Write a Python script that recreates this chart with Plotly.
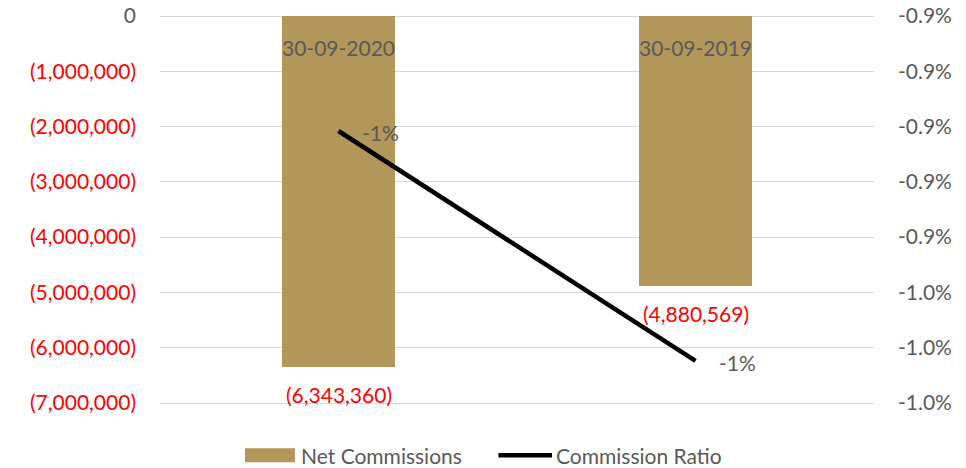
import plotly.graph_objects as go

categories = ["30-09-2020", "30-09-2019"]
net_commissions = [-6343360, -4880569]
commission_ratio = [-0.009016, -0.009848]
ratio_labels = ["-1%", "-1%"]

left_tick_vals = [0, -1000000, -2000000, -3000000, -4000000, -5000000, -6000000, -7000000]
right_tick_vals = [-0.0086, -0.0088, -0.0090, -0.0092, -0.0094, -0.0096, -0.0098, -0.0100]

FONT = "Lato"
GRAY = "#595959"
RED = "#FF0000"
BAR = "#B3965A"

left_tick_text = ["<span style='color:%s'>0</span>" % GRAY if v == 0 else "({:,.0f})".format(abs(v)) for v in left_tick_vals]
right_tick_text = ["{:.1%}".format(v) for v in right_tick_vals]
bar_labels = ["({:,.0f})".format(abs(v)) for v in net_commissions]

# 2px padding at each end so the end gridlines are drawn (grid span = 387px)
PAD_FRAC = 2 / 387
lspan = max(left_tick_vals) - min(left_tick_vals)
rspan = max(right_tick_vals) - min(right_tick_vals)
lpad = PAD_FRAC * lspan
rpad = PAD_FRAC * rspan

fig = go.Figure()
fig.add_trace(go.Bar(
    x=categories, y=net_commissions, name="Net Commissions",
    marker=dict(color=BAR, line=dict(width=0)), width=0.314,
    yaxis="y", showlegend=False,
))
fig.add_trace(go.Scatter(
    x=categories, y=commission_ratio, name="Commission Ratio",
    mode="lines", line=dict(color="black", width=4.5),
    yaxis="y2", showlegend=False,
))
# category labels inside the plot just below the zero line
for c in categories:
    fig.add_annotation(x=c, y=0, yref="y", text=c, showarrow=False,
                       yanchor="middle", yshift=-31,
                       font=dict(color=GRAY, size=21, family=FONT))
# bar data labels
for c, v, t in zip(categories, net_commissions, bar_labels):
    fig.add_annotation(x=c, y=v, yref="y", text=t, showarrow=False,
                       yanchor="middle", yshift=-28,
                       font=dict(color=RED, size=21, family=FONT))
# line data labels
for c, v, t in zip(categories, commission_ratio, ratio_labels):
    fig.add_annotation(x=c, y=v, yref="y2", text=t, showarrow=False,
                       xanchor="left", xshift=21, yshift=-2,
                       font=dict(color=GRAY, size=21, family=FONT))

# custom legend (wide swatches, as in the reference); paper y for 391px-high plot area
def py(pix):  # page pixel y -> paper coordinate (plot area from 13.7 to 404.7)
    return (404.7 - pix) / 391.0

fig.add_shape(type="rect", xref="paper", yref="paper", x0=0.119, x1=0.189, y0=py(448), y1=py(462),
              fillcolor=BAR, line=dict(width=0))
fig.add_annotation(xref="paper", yref="paper", x=0.194, y=py(455), text="Net Commissions",
                   showarrow=False, xanchor="left", yanchor="middle",
                   font=dict(color=GRAY, size=21, family=FONT))
fig.add_shape(type="line", xref="paper", yref="paper", x0=0.474, x1=0.549, y0=py(455), y1=py(455),
              line=dict(color="black", width=4.5))
fig.add_annotation(xref="paper", yref="paper", x=0.552, y=py(455), text="Commission Ratio",
                   showarrow=False, xanchor="left", yanchor="middle",
                   font=dict(color=GRAY, size=21, family=FONT))

# the page body adds an 8px offset, so the figure is 8px smaller and shifted back
fig.update_layout(
    width=958, height=460,
    margin=dict(l=152, r=92, t=5.7, b=63.3, autoexpand=False),
    paper_bgcolor="white", plot_bgcolor="white",
    font=dict(family=FONT, size=21, color=GRAY),
    bargap=0,
    xaxis=dict(showticklabels=False, showgrid=False, showline=False, ticks="",
               range=[-0.5, 1.5], automargin=False),
    yaxis=dict(range=[min(left_tick_vals) - lpad, max(left_tick_vals) + lpad],
               tickvals=left_tick_vals, ticktext=left_tick_text,
               tickfont=dict(color=RED, size=21), gridcolor="#D9D9D9", gridwidth=1.3,
               zeroline=False, showline=False, ticklabelstandoff=23, automargin=False,
               ticklabeloverflow="allow"),
    yaxis2=dict(range=[min(right_tick_vals) - rpad, max(right_tick_vals) + rpad],
                tickvals=right_tick_vals, ticktext=right_tick_text,
                overlaying="y", side="right", showgrid=False, zeroline=False,
                tickfont=dict(color=GRAY, size=21), ticklabelstandoff=23, automargin=False,
                ticklabeloverflow="allow"),
    showlegend=False,
)

fig.write_html("out.html")
